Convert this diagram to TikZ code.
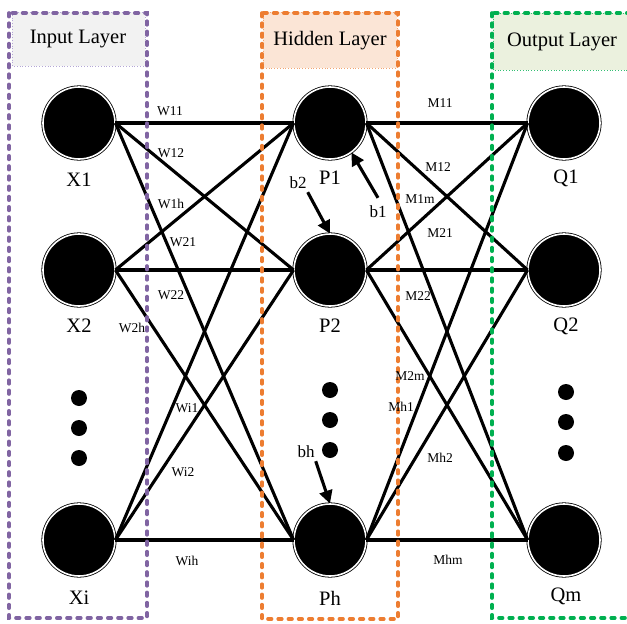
\documentclass[tikz,border=0pt]{standalone}
\usepackage{fontspec}
\setmainfont{Liberation Serif}
\usetikzlibrary{arrows.meta}

\definecolor{layerpurple}{RGB}{128,100,162}
\definecolor{layerorange}{RGB}{237,125,49}
\definecolor{layergreen}{RGB}{0,176,80}
\definecolor{headgray}{RGB}{242,242,242}
\definecolor{headpeach}{RGB}{251,229,214}
\definecolor{headgreen}{RGB}{235,241,222}
\definecolor{edgepurple}{RGB}{180,167,214}

\begin{document}
\begin{tikzpicture}[x=1pt,y=-1pt,
  neuron/.style={circle, minimum size=72pt, inner sep=0pt, draw=black, fill=black,
                 line width=0.8pt, double=white, double distance=1.6pt},
  nname/.style={font=\fontsize{20.5}{24}\selectfont, inner sep=1pt},
  wlabel/.style={font=\fontsize{13.5}{15}\selectfont, inner sep=1pt},
  blabel/.style={font=\fontsize{17}{20}\selectfont, inner sep=1pt},
  headtext/.style={font=\fontsize{20.5}{24}\selectfont},
  link/.style={line width=3.1pt},
  biasarrow/.style={line width=3.1pt, -{Triangle[length=13pt,width=13pt]}},
  layerbox/.style={line width=3.6pt, dash pattern=on 3.6pt off 6.6pt, line cap=round},
  headbox/.style={line width=0.8pt, dotted},
  dotmark/.style={fill=black}
]
\useasboundingbox (0,0) rectangle (627,624);
\clip (0,0) rectangle (627,624);

% header panels
\fill[headgray] (12,12) rectangle (145,66);
\draw[headbox, edgepurple] (12,12) rectangle (145,66);
\fill[headpeach] (263,12) rectangle (397,68);
\draw[headbox, layerorange!70] (263,12) rectangle (397,68);
\fill[headgreen] (493,13) rectangle (640,70);
\draw[headbox, layergreen!80] (493,13) rectangle (640,70);
\node[headtext] (hin) at (78,39) {Input Layer};
\node[headtext] (hhid) at (330,41) {Hidden Layer};
\node[headtext] (hout) at (562,42) {Output Layer};

% neurons
\node[neuron] (X1) at (79,123) {};
\node[neuron] (X2) at (79,270) {};
\node[neuron] (Xi) at (79,540) {};
\node[neuron] (P1) at (330,123) {};
\node[neuron] (P2) at (330,270) {};
\node[neuron] (Ph) at (330,540) {};
\node[neuron] (Q1) at (564,123) {};
\node[neuron] (Q2) at (564,270) {};
\node[neuron] (Qm) at (564,540) {};

\node[nname] (tX1) at (79,180) {X1};
\node[nname] (tX2) at (79,326) {X2};
\node[nname] (tXi) at (79,598) {Xi};
\node[nname] (tP1) at (330,178) {P1};
\node[nname] (tP2) at (330,326) {P2};
\node[nname] (tPh) at (330,598) {Ph};
\node[nname] (tQ1) at (566,178) {Q1};
\node[nname] (tQ2) at (566,326) {Q2};
\node[nname] (tQm) at (566,596) {Qm};

% ellipsis dots
\fill[dotmark] (79,398) circle (8);
\fill[dotmark] (79,428) circle (8);
\fill[dotmark] (79,458) circle (8);
\fill[dotmark] (330,390) circle (8);
\fill[dotmark] (330,420) circle (8);
\fill[dotmark] (330,450) circle (8);
\fill[dotmark] (566,392) circle (8);
\fill[dotmark] (566,422) circle (8);
\fill[dotmark] (566,453) circle (8);

% input -> hidden connections
\foreach \s in {X1,X2,Xi}
  \foreach \t in {P1,P2,Ph}
    \draw[link] (\s.east) -- (\t.west);

% hidden -> output connections
\foreach \s in {P1,P2,Ph}
  \foreach \t in {Q1,Q2,Qm}
    \draw[link] (\s.east) -- (\t.west);

% dashed layer frames
\draw[layerbox, layerpurple] (9,13) rectangle (147,618);
\draw[layerbox, layerorange] (262,13) rectangle (398,619);
\draw[layerbox, layergreen] (492,13) rectangle (660,618);

% weight labels
\node[wlabel] (w11) at (170,111) {W11};
\node[wlabel] (w12) at (171,153) {W12};
\node[wlabel] (w1h) at (171,204) {W1h};
\node[wlabel] (w21) at (183,242) {W21};
\node[wlabel] (w22) at (171,295) {W22};
\node[wlabel] (w2h) at (132,328) {W2h};
\node[wlabel] (wi1) at (187,408) {Wi1};
\node[wlabel] (wi2) at (183,472) {Wi2};
\node[wlabel] (wih) at (187,561) {Wih};

\node[wlabel] (m11) at (440,103) {M11};
\node[wlabel] (m12) at (438,167) {M12};
\node[wlabel] (m1m) at (420,199) {M1m};
\node[wlabel] (m21) at (440,233) {M21};
\node[wlabel] (m22) at (418,296) {M22};
\node[wlabel] (m2m) at (410,376) {M2m};
\node[wlabel] (mh1) at (401,407) {Mh1};
\node[wlabel] (mh2) at (440,458) {Mh2};
\node[wlabel] (mhm) at (448,560) {Mhm};

% biases
\node[blabel] (b1) at (378,212) {b1};
\node[blabel] (b2) at (298,183) {b2};
\node[blabel] (bh) at (306,452) {bh};
\draw[biasarrow] ([yshift=7pt]b1.north) -- (P1.-54);
\draw[biasarrow] ([shift={(0pt,-2pt)}]b2.south east) -- (P2.north);
\draw[biasarrow] ([shift={(0pt,-2pt)}]bh.south east) -- (Ph.north);
\end{tikzpicture}
\end{document}
